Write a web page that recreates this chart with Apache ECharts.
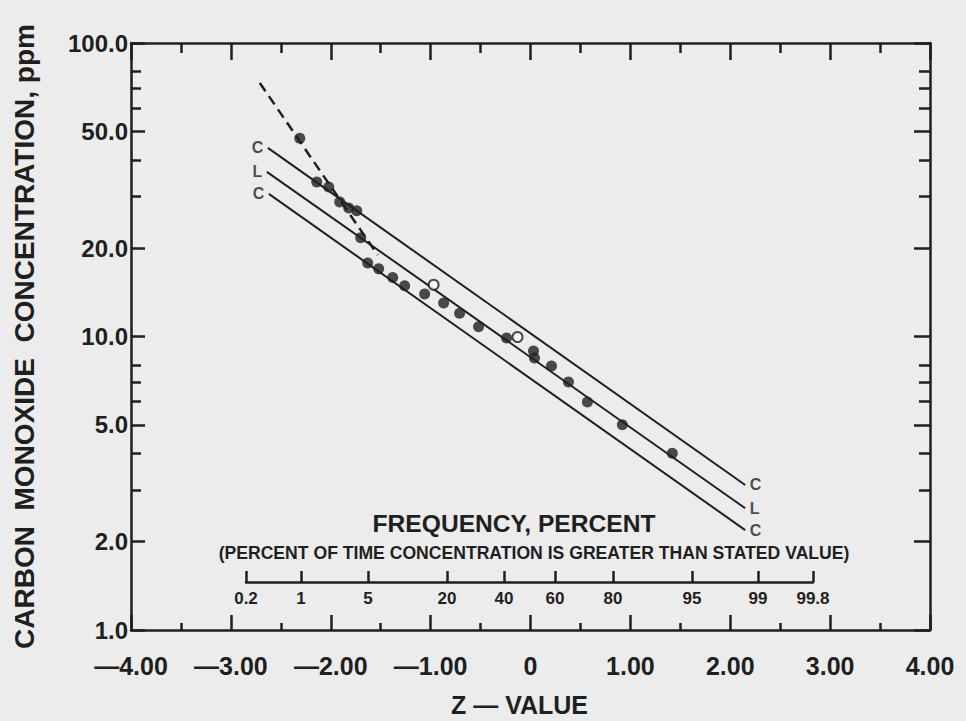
<!DOCTYPE html>
<html>
<head>
<meta charset="utf-8">
<script src="https://cdn.jsdelivr.net/npm/echarts@6/dist/echarts.min.js"></script>
<style>
  html, body { margin: 0; padding: 0; background: #ececec; }
  #chart { width: 966px; height: 721px; }
</style>
</head>
<body>
<div id="chart"></div>
<script>
// Z-value axis ticks
const zTicks = [-4, -3, -2, -1, 0, 1, 2, 3, 4];
// Concentration axis ticks (ppm), labelled and unlabelled
const ppmMajorTicks = [1, 2, 5, 10, 20, 50, 100];
const ppmMinorTicks = [3, 4, 6, 7, 8, 30, 40, 60, 70, 80];
// Frequency scale: percent labels and the Z-value where each sits
const freqLabels = ['0.2', '1', '5', '20', '40', '60', '80', '95', '99', '99.8'];
const freqZ = [-2.84, -2.29, -1.62, -0.83, -0.26, 0.25, 0.83, 1.62, 2.28, 2.83];

// Observed concentrations: [z-value, ppm]
const observed = [
  [-2.31, 47.4], [-2.14, 33.6], [-2.02, 32.3], [-1.91, 28.7], [-1.82, 27.4],
  [-1.74, 26.8], [-1.70, 21.7], [-1.63, 17.8], [-1.52, 17.0], [-1.38, 15.9],
  [-1.26, 14.9], [-1.06, 13.96], [-0.87, 13.0], [-0.71, 12.0], [-0.52, 10.8],
  [-0.24, 9.88], [0.03, 8.93], [0.04, 8.45], [0.21, 7.93], [0.38, 7.0],
  [0.57, 5.98], [0.92, 5.0], [1.42, 4.0]
];
const openMarks = [[-0.97, 15.0], [-0.13, 9.96]];

// Fitted log-normal line (L) with its confidence limits (C)
const upperC = [[-2.63, 43.9], [2.15, 3.12]];
const lineL  = [[-2.64, 36.4], [2.15, 2.60]];
const lowerC = [[-2.62, 30.6], [2.15, 2.19]];
// Steeper trend through the highest readings
const dashedFit = [[-2.71, 73.1], [-1.53, 18.96]];

const INK = '#1f1f1f';
const FONT = 'Liberation Sans';
const toLog = pts => pts.map(([z, c]) => [z, Math.log10(c)]);
const lg = arr => arr.map(v => Math.log10(v));

const zLabel = v => {
  if (Math.abs(v) < 1e-9) return '0';
  return (v < 0 ? '\u2014' : '') + Math.abs(v).toFixed(2);
};
const ppmLabel = v => Math.pow(10, v).toFixed(1);
const freqLabel = v => {
  let best = 0;
  freqZ.forEach((z, i) => { if (Math.abs(z - v) < Math.abs(freqZ[best] - v)) best = i; });
  return freqLabels[best];
};

const tagData = [];
[[upperC, 'C'], [lineL, 'L'], [lowerC, 'C']].forEach(([pts, tag]) => {
  const lp = toLog(pts);
  tagData.push({ value: lp[0], name: tag, label: { position: 'left' } });
  tagData.push({ value: lp[lp.length - 1], name: tag, label: { position: 'right' } });
});

const solidLine = (data) => ({
  type: 'line', data: toLog(data), symbol: 'none', silent: true,
  lineStyle: { color: INK, width: 2 }, z: 3
});

const chart = echarts.init(document.getElementById('chart'), null, { renderer: 'svg' });

const tickStyle = { color: INK, width: 2.5 };
const commonY = {
  type: 'value', min: 0, max: 2, gridIndex: 0,
  splitLine: { show: false }, axisLabel: { show: false }
};

chart.setOption({
  backgroundColor: '#ececec',
  animation: false,
  grid: [
    { left: 131, right: 36, top: 43, bottom: 91, outerBoundsMode: 'none' },
    { left: 246, right: 153, top: 571, height: 11, outerBoundsMode: 'none' }
  ],
  xAxis: [
    {
      type: 'value', gridIndex: 0, position: 'bottom',
      min: zTicks[0], max: zTicks[zTicks.length - 1], interval: 1,
      name: 'Z \u2014 VALUE', nameLocation: 'middle', nameGap: 62,
      nameTextStyle: { color: INK, fontFamily: FONT, fontWeight: 'bold', fontSize: 25, padding: [0, 22, 0, 0] },
      axisLine: { onZero: false, lineStyle: { color: INK, width: 2.5 } },
      axisTick: { inside: true, length: 15, lineStyle: tickStyle },
      minorTick: { show: true, splitNumber: 2, length: 7, lineStyle: tickStyle },
      axisLabel: { color: INK, fontFamily: FONT, fontWeight: 'bold', fontSize: 25, margin: 23, formatter: zLabel },
      splitLine: { show: false }, minorSplitLine: { show: false }
    },
    {
      type: 'value', gridIndex: 0, position: 'top',
      min: zTicks[0], max: zTicks[zTicks.length - 1], interval: 1,
      axisLine: { onZero: false, lineStyle: { color: INK, width: 2.5 } },
      axisTick: { inside: true, length: 17, lineStyle: tickStyle },
      minorTick: { show: true, splitNumber: 2, length: 10, lineStyle: tickStyle },
      axisLabel: { show: false }, splitLine: { show: false }
    },
    {
      type: 'value', gridIndex: 1, position: 'bottom',
      min: freqZ[0], max: freqZ[freqZ.length - 1],
      axisLine: { onZero: false, lineStyle: { color: INK, width: 2.5 } },
      axisTick: { inside: true, length: 11, customValues: freqZ, lineStyle: tickStyle },
      axisLabel: { color: INK, fontFamily: FONT, fontWeight: 'bold', fontSize: 17, margin: 8, customValues: freqZ, formatter: freqLabel },
      splitLine: { show: false }
    }
  ],
  yAxis: [
    Object.assign({}, commonY, {
      position: 'left',
      name: 'CARBON  MONOXIDE  CONCENTRATION, ppm', nameLocation: 'middle', nameGap: 93,
      nameTextStyle: { color: INK, fontFamily: FONT, fontWeight: 'bold', fontSize: 28 },
      axisLine: { onZero: false, lineStyle: { color: INK, width: 2.5 } },
      axisTick: { inside: true, length: 14, customValues: lg(ppmMajorTicks), lineStyle: tickStyle },
      axisLabel: { show: true, color: INK, fontFamily: FONT, fontWeight: 'bold', fontSize: 24, margin: 3, customValues: lg(ppmMajorTicks), formatter: ppmLabel }
    }),
    Object.assign({}, commonY, {
      position: 'left',
      axisLine: { show: false, onZero: false },
      axisTick: { inside: true, length: 10, customValues: lg(ppmMinorTicks), lineStyle: tickStyle }
    }),
    Object.assign({}, commonY, {
      position: 'right',
      axisLine: { onZero: false, lineStyle: { color: INK, width: 2.5 } },
      axisTick: { inside: true, length: 16, customValues: lg(ppmMajorTicks), lineStyle: tickStyle }
    }),
    Object.assign({}, commonY, {
      position: 'right',
      axisLine: { show: false, onZero: false },
      axisTick: { inside: true, length: 11, customValues: lg(ppmMinorTicks), lineStyle: tickStyle }
    }),
    { type: 'value', gridIndex: 1, min: 0, max: 1, show: false }
  ],
  graphic: [
    {
      type: 'text', x: 514, y: 523,
      style: { text: 'FREQUENCY, PERCENT', fill: INK, font: 'bold 24.6px "Liberation Sans"', textAlign: 'center', textVerticalAlign: 'middle' }
    },
    {
      type: 'text', x: 534, y: 553,
      style: { text: '(PERCENT OF TIME CONCENTRATION IS GREATER THAN STATED VALUE)', fill: INK, font: 'bold 17.6px "Liberation Sans"', textAlign: 'center', textVerticalAlign: 'middle' }
    }
  ],
  series: [
    solidLine(upperC),
    solidLine(lineL),
    solidLine(lowerC),
    {
      type: 'line', data: toLog(dashedFit), symbol: 'none', silent: true,
      lineStyle: { color: INK, width: 2.5, type: [10, 6] }, z: 3
    },
    {
      type: 'scatter', data: toLog(observed), symbol: 'circle', symbolSize: 11,
      itemStyle: { color: INK }, z: 4
    },
    {
      type: 'scatter', data: toLog(openMarks), symbol: 'emptyCircle', symbolSize: 10,
      itemStyle: { color: INK, borderColor: INK, borderWidth: 2 }, z: 4
    },
    {
      type: 'scatter', data: tagData, symbol: 'circle', symbolSize: 1,
      itemStyle: { color: 'transparent' }, silent: true, z: 5,
      label: { show: true, formatter: '{b}', color: INK, fontFamily: FONT, fontWeight: 'bold', fontSize: 16, distance: 4 }
    }
  ]
});
</script>
</body>
</html>
